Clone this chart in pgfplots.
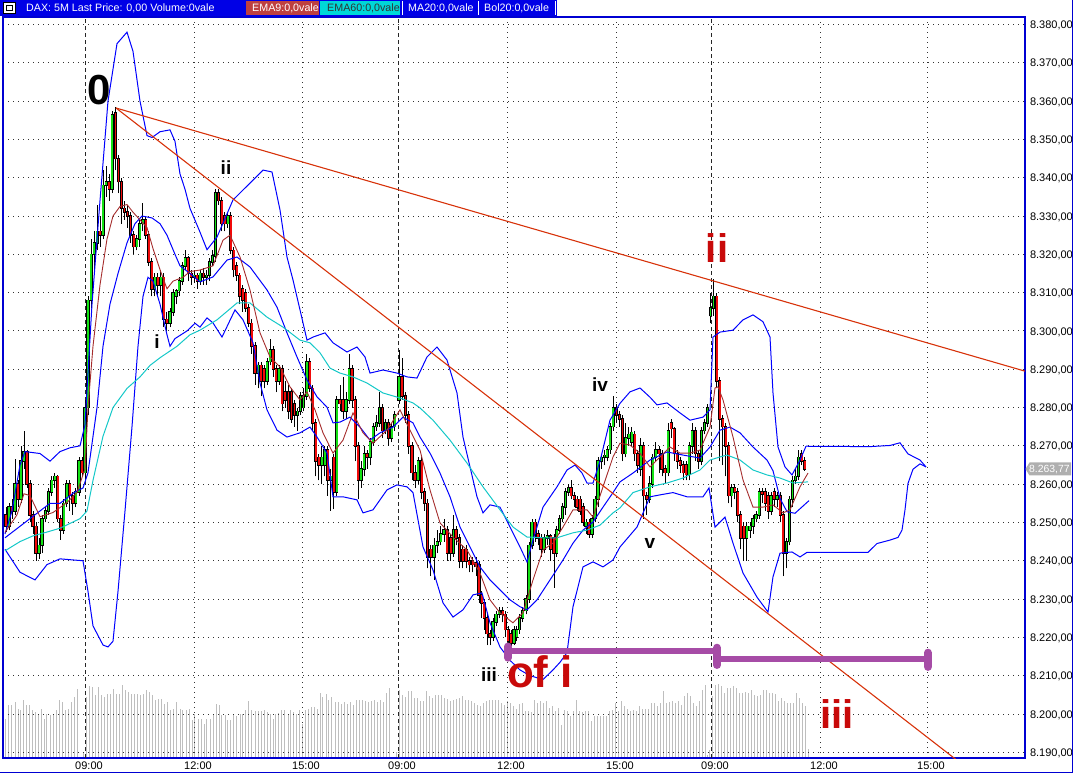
\documentclass[border=0pt]{standalone}
\usepackage{fontspec}
\setmainfont{Liberation Sans}
\usepackage{pgfplots}
\pgfplotsset{compat=1.18}
\usepackage{pgfplotstable}

\definecolor{frameblue}{RGB}{0,0,210}
\definecolor{bandblue}{RGB}{0,0,255}
\definecolor{emasixty}{RGB}{20,200,200}
\definecolor{emanine}{RGB}{165,45,45}
\definecolor{upgreen}{RGB}{20,225,20}
\definecolor{downred}{RGB}{240,10,10}
\definecolor{trend}{RGB}{215,50,10}
\definecolor{labelred}{RGB}{200,10,10}
\definecolor{purplebar}{RGB}{166,76,166}
\definecolor{volgray}{RGB}{190,190,190}
\definecolor{headblue}{RGB}{0,0,230}
\definecolor{emaredbox}{RGB}{190,64,64}
\definecolor{emacyanbox}{RGB}{0,215,215}
\definecolor{lastgray}{RGB}{175,175,175}

\newcommand\hfont{\fontsize{10.7}{12}\selectfont}

% candle plots: error bars only, no visible marks
\pgfplotsset{
  candlepart/.style 2 args={only marks, mark=*, mark size=0pt,
    mark options={draw=none, fill=none},
    error bars/.cd, y dir=plus, y explicit, error mark=none,
    error bar style={draw=#1, line width=#2}},
}

% candles: x o h l c  (x = bar position on the time axis)
\pgfplotstableread{
x o h l c
9 8249 8255 8248 8254
15 8253 8266.5 8252 8260
21 8256 8270 8255 8266
24 8266 8274 8264 8268.5
39 8242 8246 8240.5 8244
42 8244 8252 8242 8251
45.5 8251 8254 8250 8253
48.5 8253 8259 8252 8258
51.6 8258 8262 8257 8261
54.6 8261 8263 8259 8262
63.8 8248 8256 8247 8255
66.8 8255 8261 8254 8260
75.9 8255 8259 8254 8258
79 8258 8267 8257 8266
85 8263 8282 8261 8280
88 8280 8309 8278 8308
91.1 8308 8324 8306 8320
94.1 8320 8326 8316 8323
97.1 8323 8333 8321 8326
103.2 8325 8342 8324 8338
106.2 8338 8343 8335 8339
112.3 8337 8357.5 8336 8356.5
136.6 8322 8325 8321 8324
139.6 8324 8329 8322 8328
142.7 8328 8333.5 8326 8329
154.8 8311 8315 8309 8314
160.9 8312 8316 8309 8314
170.0 8302 8306 8301 8305
173.0 8305 8311 8304 8310
176.1 8309 8311 8307 8310.5
179.1 8310.5 8314 8309 8313
182.1 8313 8318 8312 8317
185.2 8317 8321 8316 8319
194.3 8314 8316 8312.5 8314.5
200.3 8313 8316 8312 8315
206.4 8314 8316 8312 8314.5
209.4 8314.5 8319 8313 8318
212.5 8318 8321 8317 8319.5
215.5 8319.5 8337 8318 8336
227.7 8328 8331 8327 8330
258.0 8289 8292 8285 8291
267.1 8287 8293 8286 8292
270.1 8292 8298 8291 8295
279.2 8287 8291 8286 8290
297.5 8278 8280 8274 8279
300.5 8279 8284 8278 8283
303.5 8280 8285 8279 8283
306.6 8283 8294 8282 8292
321.7 8265 8270 8260 8267
324.8 8265 8270 8262 8269
330.8 8261 8264 8253 8262
336.9 8258 8283 8257 8282
346.0 8279 8284 8277 8282
349.1 8282 8294 8281 8290
361.2 8261 8266 8259 8264
364.2 8264 8270 8262 8268
370.3 8267 8272 8265 8271
373.3 8271 8276 8270 8275
376.4 8275 8278 8274 8276
379.4 8276 8284 8275 8280
385.5 8274 8277 8273 8276
391.6 8272 8276 8271 8275
394.6 8275 8279 8274 8278
399 8282 8295 8281 8288
418.2 8261 8267 8260 8266
434 8241 8246 8235 8244
437.3 8244 8248 8242 8245
440.7 8245 8249 8244 8247
444 8247 8251 8245 8248
453.5 8242 8252 8241 8248
493 8220 8225 8219 8224
496 8224 8227 8223 8226
499.3 8226 8228 8225 8227
514 8218.5 8223 8218 8222
516.8 8220 8223 8219 8222
519.5 8222 8226 8221 8225
522.7 8225 8228 8224 8227
526 8227 8231 8226 8230
529 8230 8245 8229 8244
532 8244 8251 8243 8250
544 8243 8247 8242 8246
547.3 8246 8248 8244 8246.5
556.8 8242 8249 8241 8248
559.5 8248 8252 8247 8251
562.5 8251 8255 8250 8254
565.5 8254 8259 8252 8258
568.5 8258 8260 8257 8259
586 8249 8251 8247 8250
592 8247 8252 8246 8251
595 8251 8257 8250 8256
598 8256 8267 8254 8266
601.3 8266 8268 8264 8267
604.5 8267 8269 8265 8267.5
607.3 8267 8270 8266 8269
610.3 8269 8276 8268 8275
613.3 8275 8283 8274 8280
625.6 8268 8276 8267 8272
628.6 8272 8275 8270 8273
631.6 8271 8275 8270 8273.5
640.7 8264 8272 8262 8270
649.9 8256 8262 8255 8260
652.9 8260 8268 8259 8267
655.9 8267 8271 8266 8269
668.1 8263 8276 8262 8274
689.3 8262.5 8271 8261 8270
692.3 8270 8276 8268 8274
701.4 8266 8275 8265 8274
704.5 8274 8277 8273 8276
707.5 8276 8281 8275 8280
710.5 8304 8310 8302 8306
713.5 8306 8313.5 8304 8309
731.7 8257 8260 8254 8259
746.9 8246 8250 8240 8249
750.0 8248 8250 8246 8249
753.0 8249 8252 8247 8251
756.0 8251 8253 8250 8252
759.1 8252 8259 8251 8258
771.2 8253 8258 8252 8257
777.3 8256 8258 8254 8257
786.4 8242 8246 8238 8245
789.4 8245 8257 8244 8256
792.4 8256 8262 8254 8261
795.5 8261 8264 8260 8262
798.5 8262 8269 8261 8267
}\upcandles

\pgfplotstableread{
x o h l c
6 8252 8254 8247.5 8249
12 8254 8256 8251 8253
18 8260 8261 8254 8256
27 8268.5 8269 8259 8260
30 8260 8261 8250 8252
33 8252 8253 8247 8249
36 8249 8250 8240 8242
57.7 8262 8262.5 8250 8251
60.7 8251 8252 8245.5 8248
69.8 8260 8261 8253 8257
72.9 8257 8258 8252 8255
82 8266 8267 8262 8263
100.2 8326 8330 8322 8325
109.3 8339 8341 8334 8337
115.4 8357 8358.5 8342 8345
118.4 8345 8346 8336 8339
121.4 8339 8340 8328 8332
124.5 8332 8334 8329 8331
127.5 8331 8333 8327 8330
130.5 8330 8331 8323 8325
133.6 8325 8326 8320 8322
145.7 8329 8330 8324 8325
148.7 8325 8326 8317 8318
151.8 8318 8319 8309 8311
157.8 8314 8315 8309 8312
163.9 8314 8315 8301 8303
166.9 8303 8305 8300 8302
188.2 8319 8319.5 8313 8315
191.2 8315 8316 8312 8314
197.3 8314.5 8315 8311 8313
203.4 8315 8316.5 8312 8314
218.5 8336 8337 8333 8334
221.6 8334 8335 8326 8328
224.6 8330 8331 8326 8328
230.7 8330 8331 8320 8321
233.7 8321 8322 8314 8316
236.8 8317 8318 8313 8314.5
239.8 8314.5 8315 8307 8309
242.8 8311 8312 8305 8308
245.9 8310 8311 8305 8306
248.9 8306 8307 8301 8302
251.9 8302 8303 8294 8296
255.0 8296 8297 8286 8289
261.0 8291 8292 8283 8287
264.1 8290 8291 8285 8287
273.2 8295 8296 8288 8290
276.2 8290 8291 8284 8287
282.3 8290 8291 8279 8281
285.3 8284 8287 8280 8282
288.4 8284 8286 8277 8279
291.4 8284 8285 8276 8277
294.4 8281 8282 8275 8278
309.6 8292 8293 8284 8285
312.6 8285 8286 8274 8276
315.7 8276 8277 8262 8266
318.7 8267 8268 8261 8265
327.8 8269 8270 8257 8261
333.9 8267 8268 8253.5 8258
340.0 8282 8286 8279 8281
343.0 8282 8288 8277 8279
352.1 8290 8291 8280 8282
355.1 8282 8283 8266 8270
358.2 8270 8271 8256 8261
367.3 8268 8269 8264 8267
382.4 8280 8281 8272 8274
388.5 8276 8277 8270 8272
402.3 8288 8293 8282 8283
405.5 8283 8284 8276 8278
408.7 8278 8279 8268 8270
412 8270 8271 8261 8263
415 8263 8265 8259 8261
421.7 8266 8267 8256 8258
424.5 8258 8259 8253 8255
427.5 8255 8256 8238 8241
430.7 8243 8244 8236 8241
447.3 8248 8249 8240 8242
450.7 8246 8247 8240 8242
456.3 8248 8249 8244 8246
459.5 8246 8247 8238 8240
462.7 8243 8244 8238 8240
466 8243 8244 8238 8240
469.3 8240 8241 8237 8239
472.7 8240 8241 8237 8239
476 8239.5 8241 8236 8238.5
479 8239 8240 8229 8231
481.7 8231 8232 8225 8229
484.3 8229 8230 8222 8225
487 8225 8226 8218 8221
490 8221 8222 8218 8220
502.7 8227 8228 8224 8226
505.3 8226 8227 8220 8222
508.2 8222 8223 8217.5 8219
511 8221 8222 8217 8218.5
535 8250 8251 8245 8247
538 8247 8248 8244 8246
541 8246 8247 8241 8243
550.7 8246.5 8247 8240 8243
554 8246 8247 8233 8242
571.3 8259 8261 8256 8257
574.2 8257 8258 8254 8256
577 8256 8257 8253 8254
580 8256 8257 8252 8253
583 8254 8255 8249 8250
589 8250 8251 8246 8247
616.5 8280 8281 8276 8278
619.5 8278 8279 8275 8277
622.5 8277 8278 8266 8268
634.7 8273 8274 8266 8268
637.7 8268 8269 8263 8265
643.8 8270 8271 8251 8257
646.8 8257 8258 8252 8256
659.0 8269 8270 8263 8268
662.0 8268 8269 8262 8264
665.0 8264 8265 8260 8263
671.1 8276 8277 8272 8274.5
674.1 8274.5 8275 8266 8268
677.2 8268 8269 8264 8266
680.2 8266 8267 8263 8265
683.2 8265 8266 8261 8263
686.3 8265 8266 8261 8262.5
695.4 8274 8275 8266 8268
698.4 8268 8269 8264 8266
716.6 8309 8310 8285 8287
719.6 8287 8288 8266 8277
722.6 8277 8278 8265 8275
725.7 8275 8276 8262 8270
728.7 8270 8271 8255 8257
734.8 8259 8260 8256 8258
737.8 8258 8259 8250 8252
740.9 8252 8253 8243 8246
743.9 8249 8250 8240 8246
762.1 8258 8259 8255 8257.5
765.1 8258 8259 8253 8255
768.2 8257 8258 8251 8253
774.2 8258 8259 8254 8256
780.3 8257 8258 8250 8252
783.3 8252 8253 8236 8242
801.6 8268 8269 8265 8266
804.6 8266 8267 8263.5 8264
}\downcandles

% volume, in units of the lower panel
\pgfplotstableread{
x v
5 39.3
8.3 52.7
11.7 52.7
15 56
18.3 49.3
20.7 47.7
23.3 57.7
26.7 52.7
29.3 52.7
32.3 47.7
35 46
38.3 42.7
41 49.3
44 39.3
46.7 44.3
50 42.7
53.3 44.3
56 47.7
59.3 57.7
62 56
65.3 47.7
68 49.3
71.7 56
74.3 61
77.3 69.3
80 1
83.3 6
86 61
89.3 71.7
92.7 71
95.3 62.7
98.3 71
101.7 62.7
104.3 61
107.3 64.3
110.3 63.7
113.3 69.3
116.7 64.3
119.3 64.3
122 72.7
125.3 67.7
128.3 66
131.7 64.3
134.3 64.3
137.7 63.7
140.7 62.7
143.3 64.3
146.7 67.7
149.3 66
152.7 62.7
155.3 57.7
158.3 59.3
161.7 59.3
164.7 54.3
167.3 56
170.7 48.3
173.3 49.3
176.7 56
180 49.3
182.7 47.7
186 47.7
189 49.3
192 37.7
194.7 44.3
198 39.3
201.3 39.3
204 34.3
206.7 39.3
210 39.3
213.3 42.7
216.7 53.7
219 53.3
221.7 42.7
225 42.7
227.7 37.7
230.7 37.7
233.3 43
236.7 42
240 44.3
242.7 44.3
245.7 48.3
248.3 56.7
251.7 47.7
255 46.7
258.3 47.3
261 46.7
264.7 47.7
267.3 46
270.3 44.3
273 39.3
275.7 44.3
278.7 45.3
281.7 47.7
284.7 47.7
288 42.7
290.7 47.7
293.3 46
296.7 44.3
299.3 47.7
302.7 34.3
305.3 47.7
308 49.3
311.3 51
314.3 51
317 49.3
320 65
322.7 61
326 64.3
328.7 57.7
331.7 61
335 56
338 56
341.3 54.3
344 56
347.3 54.3
350 56
353.3 52.7
356 57.7
359.3 57.7
362.7 57.7
365.3 57.3
368 56
371.3 57.3
374 58.3
377.3 56
380 57.7
383.3 56
386.7 65
389.3 70.3
393.3 1
396 6
399.3 67.7
402.7 62.7
405.3 61
408.7 67
411.7 66.7
414.5 60
417.3 60
420 56.7
423 56.7
426 66.7
429 61.7
432 60
435 63.3
438 63.3
441 63.3
444 60
447 59
450 56.7
453 57.7
456 59
459 60
462 62.3
465 58.3
468 58.3
471 56.7
474 55
477 53.3
480 52.3
483 55
486 56.7
489 57.7
492 58.3
495 57.7
498 58.3
501 55
504 53.3
507 56.7
510 55
513 51.7
516 49
519 54
522 55
525 46.7
528 46.7
531 45.7
534 57.7
537 55
540 56.7
543 55
546 56.7
549 50
552 51.7
555 46.7
558 50
561 33.3
564 48.3
567 46.7
570 42.3
573 46.7
576 58.3
579 46.7
582 45.7
585 46.7
588 46.7
591 36.7
594 41.7
597 42.3
600 41.7
603 42.3
606 41.7
609 46.7
612 48.3
615 55
618 46.7
621 56.7
624 51.7
627 49
630 47.3
633 48.3
636 46.7
639 51.7
642 49
645 49
648 49
651 55
654 55
657 51.7
660 55
663 66.7
666 55
669 55.7
672 56.7
675 55
678 56.7
681 53.3
684 61.7
687 65
690 61.7
693 55
696 51.7
699 56.7
702 68.3
705 73.3
707.5 3.3
709.5 8.3
712.7 61.7
715.7 73.3
718.7 74.3
721.7 72.3
724.7 65
727.7 70
730.7 70
733.7 71.7
736.7 70
739.7 65
742.7 65
745.7 65.7
748.7 65
751.7 68.3
754.7 63.3
757.7 62.3
760.7 63.3
763.7 68.3
766.7 68.3
769.7 65
772.7 65
775.7 64.3
778.7 56.7
781.7 60
784.7 56.7
787.7 55
790.7 55
793.7 55
796.7 65
799.7 60
802.7 55
805.7 51.7
808.7 9
}\volume

\pgfplotstableread{
x y
5 8247
12 8253
20 8265
25 8268.5
40 8268
50 8266
60 8268.5
70 8269.5
80 8270
85 8275.5
92 8307
100 8334
108 8360
117 8375
127 8378
133 8373
140 8360
147 8351
152 8350.5
160 8352
170 8352.5
175 8349.5
180 8341
185 8337
190 8332
200 8325.8
207 8321.2
217 8324.5
233 8334.2
250 8338.6
263 8342
272 8341.5
280 8331.6
287 8319.3
293 8313.3
300 8305.5
307 8297.6
313 8298.4
325 8299.5
333 8296.9
347 8294.5
357 8295.8
365 8293.2
370 8289.0
383 8289.8
397 8289.0
407 8288.0
417 8287.7
427 8293.2
437 8295.8
447 8292.4
457 8283.8
463 8272.3
470 8264.5
477 8256.7
483 8252.5
490 8254.6
500 8254.0
510 8248.8
520 8243.6
527 8239.7
533 8245.4
543 8254.0
557 8259.3
567 8263.7
575 8265.0
582 8262.9
587 8260.3
593 8260.3
600 8266
610 8276.7
620 8281.1
630 8284.1
640 8285.1
650 8282.7
657 8280.7
667 8281.2
680 8278.6
690 8276.7
703 8277.5
710 8279.4
713 8298.4
720 8299.7
733 8300.2
743 8302.9
753 8304.2
763 8302.4
770 8298.4
773 8283.8
778 8269.7
785 8264.5
792 8262.4
800 8266.3
806 8269.9
}\bolup

\pgfplotstableread{
x y
5 8243
20 8237
35 8235
47 8239
60 8240.5
83 8240
88 8232
93 8223
103 8218
108 8217.5
113 8219
118 8232
125 8253
132 8275
138 8296
143 8309
148 8314
153 8313
160 8307
167 8299
170 8296
175 8298
187 8300
195 8302
200 8301.0
207 8303.4
213 8302.1
222 8298.4
235 8305.5
243 8302.9
253 8296.9
260 8286.4
267 8279.4
277 8274.1
287 8272.3
300 8273.4
310 8274.9
317 8272.3
327 8268.1
333 8256.7
343 8256.7
357 8255.9
363 8252.5
373 8253.3
387 8258.5
397 8259.8
407 8259.3
413 8257.8
423 8243.6
433 8237.6
443 8229.0
453 8225.3
463 8227.2
473 8231.1
482 8231.6
490 8223.8
500 8217.5
510 8214
520 8211.5
530 8210
543 8209
553 8211.5
560 8213.5
567 8216
573 8228
583 8238.4
593 8239.7
603 8238.4
613 8240.2
620 8243.6
637 8248.8
650 8256.7
660 8257.2
673 8257.8
687 8256.7
703 8256.7
709 8259.0
715 8248.8
725 8251.4
733 8244.6
743 8236.8
757 8230.5
768 8226.6
773 8235.8
780 8242.0
792 8242.3
800 8241.0
807 8242.2
}\boldown

\pgfplotstableread{
x y
5 8246
20 8249
35 8252
50 8255
60 8255
75 8258
83 8259
88 8263
97 8280
103 8296
110 8307
118 8315
127 8323
135 8328
142 8330
152 8329.5
160 8328
167 8325
175 8320
180 8317
190 8315
200 8312.8
213 8314.1
227 8318.5
237 8319.3
250 8316.7
267 8310.7
277 8306.2
287 8299.5
297 8293.2
307 8287.2
317 8282.8
327 8280.1
333 8276.0
340 8276.2
350 8277.5
360 8274.9
370 8271.5
380 8273.4
393 8274.9
403 8277.5
413 8276.0
420 8272.3
430 8268.1
440 8262.9
450 8256.7
460 8248.8
470 8243.6
480 8238.4
490 8235.0
500 8232.4
510 8229.8
520 8228.0
527 8227.2
537 8229.8
550 8235.0
563 8240.2
573 8244.6
583 8248.0
593 8250.1
603 8254.0
613 8257.8
620 8260.6
633 8262.9
650 8266.3
667 8268.4
683 8267.6
700 8266.8
710 8269.7
720 8274.1
730 8274.9
740 8273.4
753 8269.7
767 8266.3
773 8263.5
780 8256.3
787 8252.8
795 8252.4
809 8255.7
}\maline

\pgfplotstableread{
x y
5 8242.6
20 8245
33 8246.5
47 8247.5
60 8248.5
80 8251
87 8253
93 8261
103 8272.5
113 8280
127 8285
140 8288
150 8291
160 8293
177 8296
190 8299
200 8300.2
217 8302.9
237 8307.3
250 8307.3
267 8303.6
283 8301.0
300 8297.6
310 8296.9
320 8294.3
330 8290.3
340 8289.0
353 8288.0
367 8286.4
383 8283.8
400 8282.5
413 8281.2
420 8279.9
433 8276.7
450 8271.5
467 8265.5
483 8259.3
500 8253.3
513 8248.8
527 8246.2
543 8246.0
557 8246.0
573 8247.3
587 8248.0
600 8249.3
613 8252.5
620 8253.8
633 8257.8
650 8259.3
667 8260.3
683 8261.6
700 8263.7
710 8266.3
720 8267.1
727 8267.6
740 8266.3
753 8263.7
767 8262.4
780 8261.6
793 8260.3
808 8260.6
}\emasixtyline

\pgfplotstableread{
x y
5 8247.4
17 8252
24 8257.5
30 8257
40 8251.5
53 8252.6
67 8255.2
77 8257.8
85 8264
88 8280
93 8296
100 8312
107 8324
113 8330
120 8332.5
127 8333
133 8331
140 8329
147 8327
153 8321.5
160 8316
167 8311
173 8313
183 8314
190 8315.5
200 8315.9
213 8317
223 8323.7
230 8325.0
240 8319.3
250 8310.7
260 8299.5
270 8293.2
280 8290.6
290 8285.4
300 8282.0
307 8284.1
315 8279.4
323 8273.4
333 8268.1
343 8271.5
353 8278.6
363 8273.4
373 8270.7
387 8274.1
400 8279.4
410 8274.1
420 8268.9
430 8258.5
440 8249.9
453 8246.2
467 8242.8
480 8236.8
490 8229.8
500 8226.4
513 8223.8
523 8226.4
533 8235.0
543 8242.8
553 8244.6
563 8248.8
573 8253.3
587 8253.3
593 8251.4
603 8259.3
613 8267.1
620 8270.7
630 8270.2
640 8268.1
650 8264.5
660 8267.1
670 8269.7
680 8268.1
690 8268.1
700 8268.9
710 8274.9
715 8285.1
718 8285.4
723 8282.0
733 8272.3
743 8261.1
753 8254.0
763 8254.0
773 8254.6
783 8252.5
790 8253.3
800 8259.3
808 8262.9
}\emanineline

\begin{document}
\begin{tikzpicture}[x=1pt,y=1pt]
\useasboundingbox (0,0) rectangle (1074,774);

% volume panel
\begin{axis}[
  at={(3pt,16pt)}, anchor=south west,
  width=1022pt, height=741pt, scale only axis,
  xmin=3, xmax=1025, ymin=0, ymax=741,
  hide axis]
  \addplot[ycomb, volgray, line width=1pt, mark=none] table {\volume};
\end{axis}

\begin{axis}[
  at={(3pt,16pt)}, anchor=south west,
  width=1022pt, height=741pt, scale only axis,
  xmin=3, xmax=1025, ymin=8188.51, ymax=8381.96,
  scaled x ticks=false, scaled y ticks=false,
  axis line style={frameblue, line width=1.2pt},
  ytick={8190,8200,...,8380},
  yticklabel pos=right,
  xtick={194,302,507,616,820,927},
  xticklabels={12:00,15:00,12:00,15:00,12:00,15:00},
  extra x ticks={85,398,711},
  extra x tick labels={09:00,09:00,09:00},
  extra x tick style={grid=major, major grid style={black!85, line width=1pt, dash pattern=on 4pt off 3pt}},
  xmajorgrids, ymajorgrids,
  major grid style={black!80, line width=0.9pt, dash pattern=on 1pt off 4pt},
  major tick length=0pt,
  tick label style={font=\fontsize{11}{13}\selectfont},
  xticklabel style={xshift=4pt},
  yticklabel style={anchor=west, xshift=1.5pt, yshift=-1pt},
  /pgf/number format/.cd, fixed, fixed zerofill, precision=2, use comma, 1000 sep={.}, assume math mode=true]

  % wicks
  \addplot[candlepart={black}{0.9pt}]
    table[x=x, y=l, y error expr=\thisrow{h}-\thisrow{l}] {\upcandles};
  \addplot[candlepart={black}{0.9pt}]
    table[x=x, y=l, y error expr=\thisrow{h}-\thisrow{l}] {\downcandles};

  % bodies, black outline then fill
  \addplot[candlepart={black}{3.1pt}]
    table[x=x, y expr=\thisrow{o}-0.2, y error expr=\thisrow{c}-\thisrow{o}+0.4] {\upcandles};
  \addplot[candlepart={upgreen}{1.8pt}]
    table[x=x, y=o, y error expr=\thisrow{c}-\thisrow{o}] {\upcandles};
  \addplot[candlepart={black}{3.1pt}]
    table[x=x, y expr=\thisrow{c}-0.2, y error expr=\thisrow{o}-\thisrow{c}+0.4] {\downcandles};
  \addplot[candlepart={downred}{1.8pt}]
    table[x=x, y=c, y error expr=\thisrow{o}-\thisrow{c}] {\downcandles};

  % indicators
  \addplot[bandblue, line width=1pt] table {\bolup};
  \addplot[bandblue, line width=1pt] table {\boldown};
  \addplot[bandblue, line width=1pt] table {\maline};
  \addplot[bandblue, line width=1pt] coordinates {(806,8269.9) (870,8269.8) (890,8270.1) (900,8270.8) (908,8267.9) (920,8266.3) (926,8264.5)};
  \addplot[bandblue, line width=1pt] coordinates {(807,8242.2) (868,8242.2) (877,8244.5) (890,8245.4) (898,8246.1) (902,8248.0) (905,8253.3) (908,8260.2) (913,8263.9) (920,8265.3) (926,8264.5)};
  \addplot[emasixty, line width=1pt] table {\emasixtyline};
  \addplot[emanine, line width=0.9pt] table {\emanineline};

  % trend lines
  \addplot[trend, line width=1.1pt] coordinates {(116,8358.2) (1025,8289.5)};
  \addplot[trend, line width=1.1pt] coordinates {(116,8358.2) (960,8187.3)};

  % purple ranges
  \addplot[purplebar, line width=6.5pt] coordinates {(508,8216.4) (717,8216.4)};
  \addplot[purplebar, line width=6.5pt] coordinates {(717,8214.3) (928,8214.3)};
  \addplot[purplebar, line width=8pt, line cap=round] coordinates {(508,8217.6) (508,8214.7)};
  \addplot[purplebar, line width=8pt, line cap=round] coordinates {(717,8217.3) (717,8212.8)};
  \addplot[purplebar, line width=8pt, line cap=round] coordinates {(928,8216.0) (928,8212.3)};
\end{axis}

% wave labels
\node[font=\fontsize{42}{42}\selectfont\bfseries] at (99.5,684) {0};
\node[font=\fontsize{19}{19}\selectfont\bfseries] at (226,606) {ii};
\node[font=\fontsize{19}{19}\selectfont\bfseries] at (157,432) {i};
\node[font=\fontsize{19}{19}\selectfont\bfseries] at (489,99) {iii};
\node[font=\fontsize{19}{19}\selectfont\bfseries] at (600,389) {iv};
\node[font=\fontsize{19}{19}\selectfont\bfseries] at (650,231) {v};
\node[font=\fontsize{40}{40}\selectfont\bfseries, text=labelred] at (717,526) {ii};
\node[font=\fontsize{44}{44}\selectfont\bfseries, text=labelred] at (540,102) {of i};
\node[font=\fontsize{40}{40}\selectfont\bfseries, text=labelred] at (837,60) {iii};

% last price tag
\fill[lastgray] (1025.5,305) -- (1029.5,311.5) -- (1071,311.5) -- (1071,298.5) -- (1029.5,298.5) -- cycle;
\node[anchor=west, inner sep=0pt, text=white, font=\fontsize{10.4}{12}\selectfont] at (1029,304.5) {8.263,77};

% header
\fill[headblue] (0,758) rectangle (557,774);
\draw[black, fill=white, line width=0.8pt] (3.5,760.5) rectangle (15.5,771.5);
\draw[black, line width=0.8pt] (6.5,763.5) rectangle (12.5,768.5);
\node[anchor=west, inner sep=0pt, text=white, font=\hfont] at (26,766) {DAX: 5M Last Price: 0,00 Volume:0vale};
\fill[emaredbox] (246,759) rectangle (319,773);
\node[anchor=west, inner sep=0pt, text=white, font=\hfont] at (252,766) {EMA9:0,0vale};
\fill[emacyanbox] (320,759) rectangle (400,773);
\node[anchor=west, inner sep=0pt, text=black!80, font=\hfont] at (327,766) {EMA60:0,0vale};
\draw[white, line width=1pt] (402,759) -- (402,773);
\node[anchor=west, inner sep=0pt, text=white, font=\hfont] at (408,766) {MA20:0,0vale};
\draw[white, line width=1pt] (478,759) -- (478,773);
\node[anchor=west, inner sep=0pt, text=white, font=\hfont] at (484,766) {Bol20:0,0vale};
\draw[white, line width=1pt] (555,759) -- (555,773);

% outer frame
\draw[frameblue, line width=1pt] (0,1.3) -- (1072.3,1.3) -- (1072.3,774);
\end{tikzpicture}
\end{document}
